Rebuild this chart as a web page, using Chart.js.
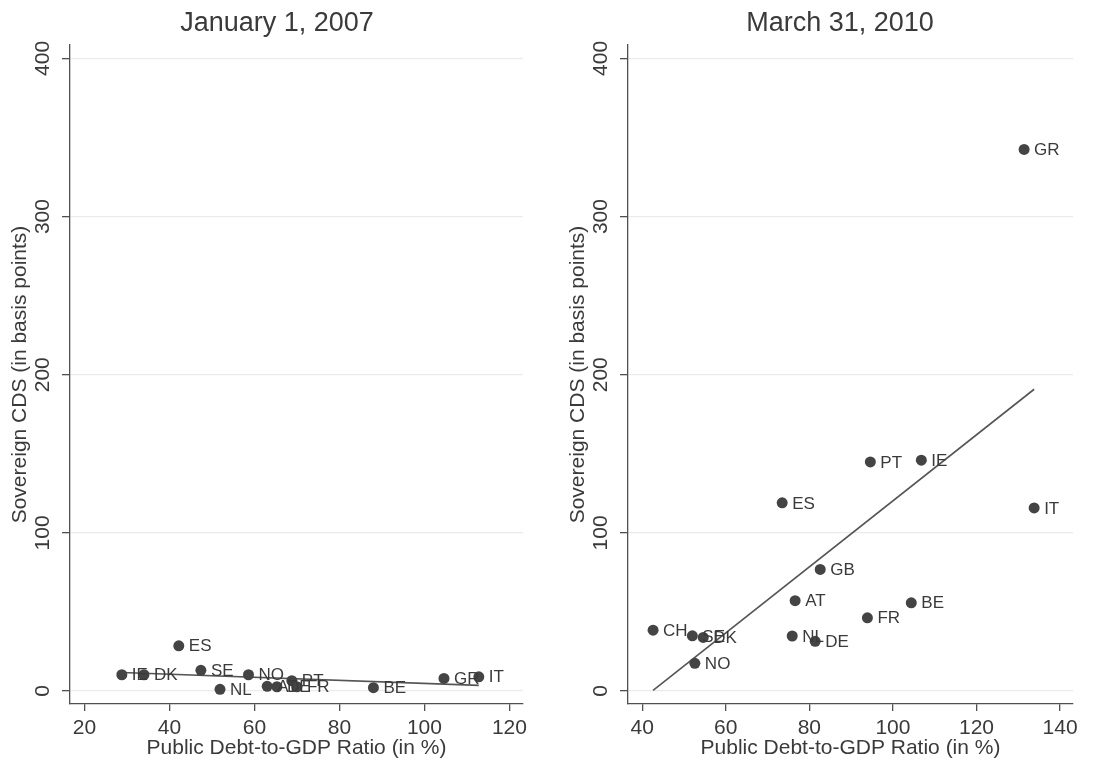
<!DOCTYPE html>
<html>
<head>
<meta charset="utf-8">
<script src="https://cdn.jsdelivr.net/npm/chart.js@4.4.1/dist/chart.umd.min.js"></script>
<style>
  html, body { margin: 0; padding: 0; background: #fff; overflow: hidden; }
  #wrap { position: relative; width: 1094px; height: 765px; }
  canvas { position: absolute; top: 0; }
  #leftChart { left: 0; }
  #rightChart { left: 558px; }
</style>
</head>
<body>
<div id="wrap">
  <canvas id="leftChart" width="547" height="765"></canvas>
  <canvas id="rightChart" width="536" height="765"></canvas>
</div>
<script>
// January 1, 2007
const countries2007 = ['IE', 'DK', 'ES', 'SE', 'NO', 'NL', 'AT', 'DE', 'PT', 'FR', 'BE', 'GR', 'IT'];
const debt2007 = [28.8, 34.0, 42.2, 47.4, 58.6, 51.9, 63.0, 65.3, 68.8, 70.0, 88.0, 104.6, 112.8];
const cds2007 = [10.3, 10.3, 28.6, 13.1, 10.3, 1.1, 3.0, 2.7, 6.5, 2.7, 2.1, 8.0, 9.0];

// March 31, 2010
const countries2010 = ['GR', 'IE', 'PT', 'ES', 'IT', 'GB', 'AT', 'BE', 'FR', 'CH', 'SE', 'DK', 'NL', 'DE', 'NO'];
const debt2010 = [131.4, 106.8, 94.6, 73.5, 133.8, 82.6, 76.6, 104.4, 93.9, 42.6, 52.0, 54.6, 75.9, 81.4, 52.6];
const cds2010 = [342.5, 146.0, 144.9, 119.0, 115.8, 76.9, 57.1, 55.8, 46.3, 38.5, 34.9, 33.9, 34.8, 31.4, 17.5];

const xTicksLeft = [20, 40, 60, 80, 100, 120];
const xTicksRight = [40, 60, 80, 100, 120, 140];
const yTicks = [0, 100, 200, 300, 400];

const TEXT = '#3a3a3a';
const AXIS = '#505050';
const GRID = '#ebebeb';
const DOT = '#444444';

Chart.defaults.font.family = '"Liberation Sans", Arial, sans-serif';
Chart.defaults.color = TEXT;

// least squares fit, drawn between the smallest and largest x
function fitLine(xs, ys) {
    const n = xs.length;
    const mx = xs.reduce((a, b) => a + b, 0) / n;
    const my = ys.reduce((a, b) => a + b, 0) / n;
    let sxy = 0, sxx = 0;
    for (let i = 0; i < n; i++) {
        sxy += (xs[i] - mx) * (ys[i] - my);
        sxx += (xs[i] - mx) * (xs[i] - mx);
    }
    const b = sxy / sxx;
    const a = my - b * mx;
    const lo = Math.min(...xs), hi = Math.max(...xs);
    return [{ x: lo, y: a + b * lo }, { x: hi, y: a + b * hi }];
}

const panelTitle = {
    id: 'panelTitle',
    afterDraw(chart, args, opts) {
        const ctx = chart.ctx;
        ctx.save();
        ctx.font = '27px "Liberation Sans", Arial, sans-serif';
        ctx.fillStyle = TEXT;
        ctx.textAlign = 'center';
        ctx.textBaseline = 'middle';
        ctx.fillText(opts.text, opts.x, opts.y);
        ctx.restore();
    }
};

const pointLabels = {
    id: 'pointLabels',
    afterDatasetsDraw(chart, args, opts) {
        const meta = chart.getDatasetMeta(0);
        const ctx = chart.ctx;
        ctx.save();
        ctx.font = '17px "Liberation Sans", Arial, sans-serif';
        ctx.fillStyle = TEXT;
        ctx.textAlign = 'left';
        ctx.textBaseline = 'middle';
        meta.data.forEach((pt, i) => {
            ctx.fillText(opts.labels[i], pt.x + 10, pt.y + 1);
        });
        ctx.restore();
    }
};

function makePanel(canvasId, cfg) {
    const points = cfg.xs.map((x, i) => ({ x: x, y: cfg.ys[i] }));
    return new Chart(document.getElementById(canvasId), {
        type: 'scatter',
        data: {
            datasets: [
                {
                    data: points,
                    backgroundColor: DOT,
                    borderWidth: 0,
                    pointRadius: 5.5,
                    pointHoverRadius: 5.5
                },
                {
                    type: 'line',
                    data: fitLine(cfg.xs, cfg.ys),
                    borderColor: '#555555',
                    borderWidth: 1.6,
                    pointRadius: 0,
                    fill: false
                }
            ]
        },
        options: {
            responsive: false,
            animation: false,
            layout: { padding: { top: 45, right: cfg.padRight, bottom: 0, left: 0 } },
            plugins: {
                legend: { display: false },
                tooltip: { enabled: false },
                panelTitle: { text: cfg.title, x: cfg.titleX, y: 24 },
                pointLabels: { labels: cfg.labels }
            },
            scales: {
                x: {
                    type: 'linear',
                    min: cfg.xMin,
                    max: cfg.xMax,
                    afterBuildTicks: s => { s.ticks = cfg.xTicks.map(v => ({ value: v })); },
                    afterFit: s => { s.height = 61; },
                    grid: { drawOnChartArea: false, tickLength: 7, tickColor: AXIS, lineWidth: 1.3 },
                    border: { color: AXIS, width: 1.3 },
                    ticks: { font: { size: 21 }, color: TEXT, padding: 5, maxRotation: 0, autoSkip: false },
                    title: {
                        display: true,
                        text: 'Public Debt-to-GDP Ratio (in %)',
                        font: { size: 21 },
                        color: TEXT,
                        padding: { top: 0, bottom: 4 }
                    }
                },
                y: {
                    type: 'linear',
                    min: -8.2,
                    max: 408.5,
                    afterBuildTicks: s => { s.ticks = yTicks.map(v => ({ value: v })); },
                    afterFit: s => { s.width = 70; },
                    grid: { color: GRID, lineWidth: 1.3, tickColor: AXIS, tickLength: 8 },
                    border: { color: AXIS, width: 1.3 },
                    ticks: {
                        font: { size: 21 },
                        color: TEXT,
                        minRotation: 90,
                        maxRotation: 90,
                        crossAlign: 'center',
                        padding: 1,
                        autoSkip: false
                    },
                    title: {
                        display: true,
                        text: 'Sovereign CDS (in basis points)',
                        font: { size: 21 },
                        color: TEXT,
                        padding: { top: 8, bottom: 0 }
                    }
                }
            }
        },
        plugins: [panelTitle, pointLabels]
    });
}

makePanel('leftChart', {
    xs: debt2007, ys: cds2007, labels: countries2007,
    xMin: 16.6, xMax: 123.2, xTicks: xTicksLeft,
    title: 'January 1, 2007', titleX: 277, padRight: 24
});

makePanel('rightChart', {
    xs: debt2010, ys: cds2010, labels: countries2010,
    xMin: 36.6, xMax: 143.1, xTicks: xTicksRight,
    title: 'March 31, 2010', titleX: 282, padRight: 21
});
</script>
</body>
</html>
